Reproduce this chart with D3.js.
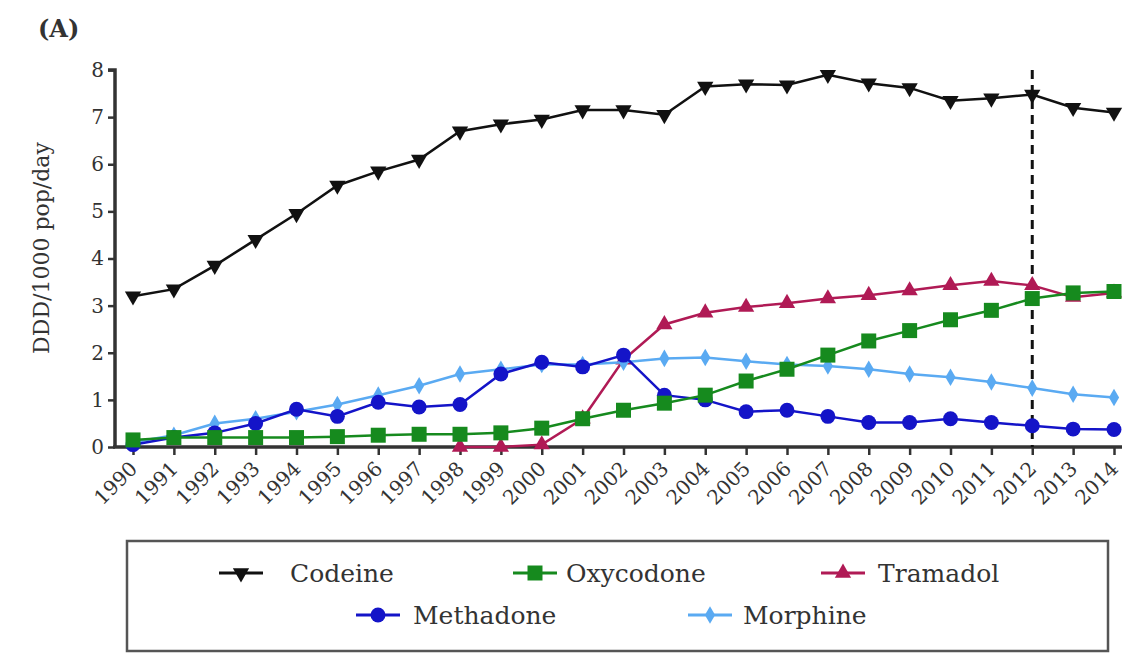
<!DOCTYPE html>
<html>
<head>
    <title>DDD/1000 pop/day</title>
    <style>
        body{ margin:0; background:#fff; }
        svg{ display:block; }
        text{ font-family: "DejaVu Serif", "Liberation Serif", serif; fill:#333; }
    </style>
    <script src="https://d3js.org/d3.v7.min.js"></script>
</head>
<body>
    <svg width="1125" height="653"></svg>

    <script>
        // Daten
        var years = d3.range(1990, 2015);
        var codeine   = [3.2,3.35,3.85,4.4,4.95,5.55,5.85,6.1,6.7,6.85,6.95,7.15,7.15,7.05,7.65,7.7,7.68,7.9,7.72,7.62,7.35,7.4,7.48,7.2,7.1];
        var oxycodone = [0.15,0.2,0.2,0.2,0.2,0.22,0.25,0.27,0.27,0.3,0.4,0.6,0.78,0.93,1.1,1.4,1.65,1.95,2.25,2.47,2.7,2.9,3.15,3.27,3.3];
        var tramadolYears = d3.range(1998, 2015);
        var tramadol  = [0,0,0.05,0.6,1.85,2.6,2.85,2.97,3.05,3.15,3.22,3.32,3.43,3.52,3.43,3.18,3.27];
        var methadone = [0.05,0.2,0.3,0.5,0.8,0.65,0.95,0.85,0.9,1.55,1.8,1.7,1.95,1.1,1.0,0.75,0.78,0.65,0.52,0.52,0.6,0.52,0.45,0.38,0.37];
        var morphine  = [0.1,0.25,0.5,0.6,0.75,0.9,1.1,1.3,1.55,1.65,1.75,1.75,1.8,1.88,1.9,1.82,1.75,1.72,1.65,1.55,1.48,1.38,1.25,1.12,1.05];
        var yTicks = [0,1,2,3,4,5,6,7,8];
        var markerYear = 2012;

        var svg = d3.select('svg');
        var x = d3.scaleLinear().domain([1990, 2014]).range([133, 1114]);
        var y = d3.scaleLinear().domain([0, 8]).range([447, 70]);

        // Achsen
        var yAxis = svg.append("g")
            .attr("transform", "translate(115,0)")
            .call(d3.axisLeft(y).tickValues(yTicks).tickSize(7).tickPadding(4));
        yAxis.select(".domain").attr("stroke", "#333").attr("stroke-width", 3.5).attr("d", "M-7,70H0V447");
        yAxis.selectAll(".tick line").attr("stroke", "#333").attr("stroke-width", 2.5);
        yAxis.selectAll("text").style("font-size", "20px").attr("fill", "#444");

        var xAxis = svg.append("g")
            .attr("transform", "translate(0,447)")
            .call(d3.axisBottom(x).tickValues(years).tickFormat(d3.format("d")).tickSize(8).tickSizeOuter(0));
        xAxis.select(".domain").attr("stroke", "#333").attr("stroke-width", 3.5).attr("d", "M113,0H1122");
        xAxis.selectAll(".tick line").attr("stroke", "#333").attr("stroke-width", 2.5);
        xAxis.selectAll("text")
            .style("font-size", "20px")
            .attr("fill", "#444")
            .attr("text-anchor", "end")
            .attr("x", 0).attr("y", 0)
            .attr("dy", "0.35em")
            .attr("transform", "translate(0,18) rotate(-45)");

        svg.append("text")
            .attr("transform", "translate(41,248) rotate(-90)")
            .attr("text-anchor", "middle")
            .attr("dy", "0.35em")
            .style("font-size", "22px")
            .text("DDD/1000 pop/day");

        svg.append("text")
            .attr("x", 38).attr("y", 37)
            .style("font-size", "24px")
            .style("font-weight", "bold")
            .attr("fill", "#222")
            .text("(A)");

        // gestrichelte Linie 2012
        svg.append("line")
            .attr("x1", x(markerYear)).attr("x2", x(markerYear))
            .attr("y1", y(8)).attr("y2", y(0))
            .attr("stroke", "#111").attr("stroke-width", 3)
            .attr("stroke-dasharray", "9,6");

        var series = [
            {name:"Tramadol", xs:tramadolYears, v:tramadol, color:"#b01a55", sym:d3.symbolTriangle, size:115, rot:0},
            {name:"Morphine", xs:years, v:morphine, color:"#5aaaf2", sym:d3.symbolDiamond, size:90, rot:0},
            {name:"Methadone", xs:years, v:methadone, color:"#1414c8", sym:d3.symbolCircle, size:175, rot:0},
            {name:"Oxycodone", xs:years, v:oxycodone, color:"#168a1e", sym:d3.symbolSquare, size:225, rot:0},
            {name:"Codeine", xs:years, v:codeine, color:"#111111", sym:d3.symbolTriangle, size:115, rot:180}
        ];

        var line = d3.line().x(d => x(d[0])).y(d => y(d[1]));

        series.forEach(function(s){
            var pts = s.xs.map((yr, i) => [yr, s.v[i]]);
            svg.append("path")
                .attr("d", line(pts))
                .attr("fill", "none")
                .attr("stroke", s.color)
                .attr("stroke-width", 2.5);
            svg.append("g").selectAll("path")
                .data(pts)
                .join("path")
                .attr("d", d3.symbol().type(s.sym).size(s.size))
                .attr("transform", d => "translate(" + x(d[0]) + "," + y(d[1]) + ") rotate(" + s.rot + ")")
                .attr("fill", s.color);
        });

        // Legende
        svg.append("rect")
            .attr("x", 127).attr("y", 541)
            .attr("width", 981).attr("height", 110)
            .attr("fill", "none")
            .attr("stroke", "#555").attr("stroke-width", 2.5);

        var legendItems = [
            {name:"Codeine", lx:241, tx:290, ly:573},
            {name:"Oxycodone", lx:535, tx:566, ly:573},
            {name:"Tramadol", lx:843, tx:878, ly:573},
            {name:"Methadone", lx:378, tx:413, ly:615},
            {name:"Morphine", lx:710, tx:743, ly:615}
        ];
        legendItems.forEach(function(it){
            var s = series.find(d => d.name === it.name);
            svg.append("line")
                .attr("x1", it.lx - 22).attr("x2", it.lx + 22)
                .attr("y1", it.ly).attr("y2", it.ly)
                .attr("stroke", s.color).attr("stroke-width", 3);
            svg.append("path")
                .attr("d", d3.symbol().type(s.sym).size(s.size))
                .attr("transform", "translate(" + it.lx + "," + it.ly + ") rotate(" + s.rot + ")")
                .attr("fill", s.color);
            svg.append("text")
                .attr("x", it.tx).attr("y", it.ly)
                .attr("dy", "0.35em")
                .style("font-size", "25px")
                .attr("fill", "#333")
                .text(it.name);
        });
    </script>
</body>
</html>
